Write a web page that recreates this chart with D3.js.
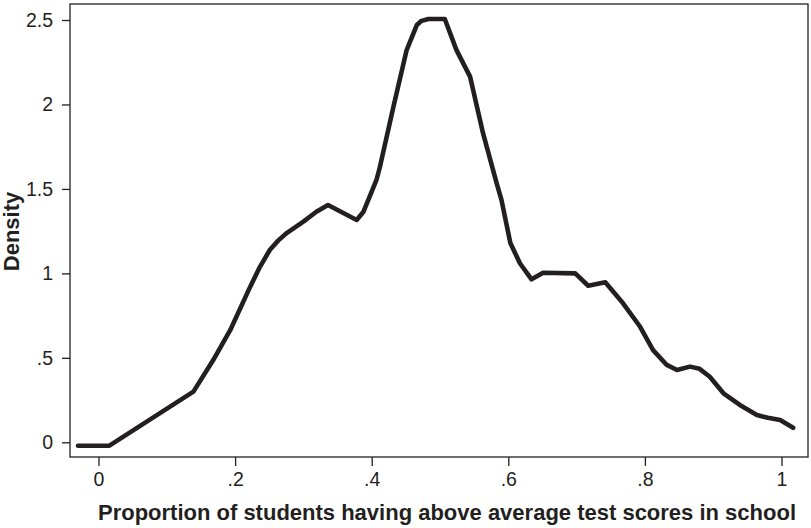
<!DOCTYPE html>
<html>
<head>
<meta charset="utf-8">
<script src="https://cdn.jsdelivr.net/npm/d3@7"></script>
<style>
  html, body { margin: 0; padding: 0; background: #fff; }
  svg { display: block; }
  text { font-family: "Liberation Sans", Arial, sans-serif; fill: #231f20; }
</style>
</head>
<body>
<svg id="chart" width="811" height="528"></svg>
<script>
// Data (kernel density estimate)
const proportion = [-0.03, 0.016, 0.078, 0.139, 0.168, 0.193, 0.222, 0.236, 0.251, 0.263, 0.276, 0.30, 0.319, 0.336, 0.378, 0.388, 0.407, 0.412, 0.432, 0.451, 0.466, 0.473, 0.483, 0.507, 0.524, 0.544, 0.563, 0.583, 0.590, 0.603, 0.617, 0.634, 0.651, 0.698, 0.717, 0.742, 0.768, 0.793, 0.812, 0.832, 0.847, 0.866, 0.880, 0.895, 0.915, 0.939, 0.964, 0.980, 0.998, 1.017];
const density = [-0.02, -0.02, 0.142, 0.30, 0.487, 0.665, 0.92, 1.036, 1.14, 1.194, 1.24, 1.306, 1.365, 1.405, 1.316, 1.365, 1.553, 1.63, 1.99, 2.32, 2.47, 2.495, 2.506, 2.506, 2.323, 2.165, 1.83, 1.533, 1.435, 1.18, 1.06, 0.965, 1.004, 1.0, 0.927, 0.947, 0.823, 0.684, 0.546, 0.458, 0.428, 0.448, 0.435, 0.388, 0.29, 0.221, 0.162, 0.145, 0.132, 0.086];
const xTickValues = [0, 0.2, 0.4, 0.6, 0.8, 1];
const xTickLabels = ["0", ".2", ".4", ".6", ".8", "1"];
const yTickValues = [0, 0.5, 1, 1.5, 2, 2.5];
const yTickLabels = ["0", ".5", "1", "1.5", "2", "2.5"];
const xTitle = "Proportion of students having above average test scores in school";
const yTitle = "Density";

const svg = d3.select("#chart");
const plot = { left: 70, right: 808, top: 4, bottom: 457 };
const ink = "#231f20";

// scales: x 0 -> 98.5px, 1 -> 781.5px ; y 0 -> 442.3px, 2.5 -> 20px
const x0 = 98.5, x1 = 781.5;
const xScale = d3.scaleLinear()
  .domain([(plot.left - x0) / (x1 - x0), (plot.right - x0) / (x1 - x0)])
  .range([plot.left, plot.right]);
const y0 = 442.3, y25 = 20;
const yScale = d3.scaleLinear()
  .domain([(y0 - plot.bottom) / ((y0 - y25) / 2.5), (y0 - plot.top) / ((y0 - y25) / 2.5)])
  .range([plot.bottom, plot.top]);

// frame
svg.append("rect")
  .attr("x", plot.left).attr("y", plot.top)
  .attr("width", plot.right - plot.left).attr("height", plot.bottom - plot.top)
  .attr("fill", "none").attr("stroke", ink).attr("stroke-width", 1.3);

// x axis
const xAxis = d3.axisBottom(xScale)
  .tickValues(xTickValues)
  .tickFormat((d, i) => xTickLabels[i])
  .tickSize(9).tickPadding(6).tickSizeOuter(0);
const gx = svg.append("g").attr("transform", `translate(0,${plot.bottom})`).call(xAxis);
gx.select(".domain").remove();
gx.selectAll("line").attr("stroke", ink).attr("stroke-width", 1.3);
gx.selectAll("text").attr("font-size", 19.5).attr("fill", ink)
  .attr("font-family", "Liberation Sans, Arial, sans-serif");

// y axis
const yAxis = d3.axisLeft(yScale)
  .tickValues(yTickValues)
  .tickFormat((d, i) => yTickLabels[i])
  .tickSize(8).tickPadding(9).tickSizeOuter(0);
const gy = svg.append("g").attr("transform", `translate(${plot.left},0)`).call(yAxis);
gy.select(".domain").remove();
gy.selectAll("line").attr("stroke", ink).attr("stroke-width", 1.3);
gy.selectAll("text").attr("font-size", 19.5).attr("fill", ink)
  .attr("font-family", "Liberation Sans, Arial, sans-serif");

// titles
svg.append("text")
  .attr("x", 447).attr("y", 520)
  .attr("text-anchor", "middle")
  .attr("font-size", 22).attr("font-weight", "bold")
  .text(xTitle);
svg.append("text")
  .attr("transform", `translate(19,${(plot.top + plot.bottom) / 2 + 1}) rotate(-90)`)
  .attr("text-anchor", "middle")
  .attr("font-size", 22).attr("font-weight", "bold")
  .text(yTitle);

// density curve
const pts = proportion.map((p, i) => [p, density[i]]);
const line = d3.line()
  .x(d => xScale(d[0]))
  .y(d => yScale(d[1]))
  .curve(d3.curveLinear);
svg.append("path")
  .datum(pts)
  .attr("d", line)
  .attr("fill", "none")
  .attr("stroke", ink)
  .attr("stroke-width", 4.6)
  .attr("stroke-linecap", "round")
  .attr("stroke-linejoin", "round");
</script>
</body>
</html>
